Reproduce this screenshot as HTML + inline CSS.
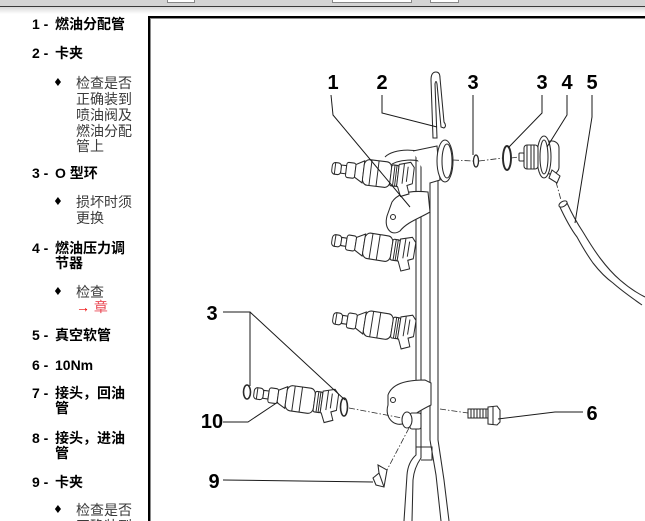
<!DOCTYPE html>
<html><head><meta charset="utf-8"><style>
html,body{margin:0;padding:0;width:645px;height:521px;overflow:hidden;background:#fff;position:relative;}
.t{position:absolute;font-family:"Liberation Sans","Noto Sans CJK SC",sans-serif;font-size:14px;line-height:16px;white-space:nowrap;}
.n{font-weight:bold;color:#000;}
.s{color:#3a3a3a;}
.d{position:absolute;font-family:"DejaVu Sans",sans-serif;font-size:11px;line-height:16px;color:#000;}
</style></head><body>
<div style="position:absolute;left:0;top:0;width:645px;height:6px;background:#d4d4d4"></div>
<div style="position:absolute;left:167px;top:0;width:26px;height:2px;background:#fff;border:1px solid #888;border-top:none"></div>
<div style="position:absolute;left:332px;top:0;width:78px;height:2px;background:#fff;border:1px solid #888;border-top:none"></div>
<div style="position:absolute;left:430px;top:0;width:27px;height:2px;background:#fff;border:1px solid #888;border-top:none"></div>
<div style="position:absolute;left:0;top:6px;width:645px;height:1px;background:#3a3a3a"></div>
<div style="position:absolute;left:0;top:7px;width:645px;height:7px;background:linear-gradient(#d8d8d8,#fff)"></div>
<div style="position:absolute;left:148px;top:16px;width:520px;height:520px;border-left:2px solid #000;border-top:2px solid #000;box-shadow:inset 1px 1px 0 #8a8a8a"></div>

<div class="t n" style="left:32px;top:16px">1 -</div><div class="t n" style="left:55px;top:16px">燃油分配管</div>
<div class="t n" style="left:32px;top:45px">2 -</div><div class="t n" style="left:55px;top:45px">卡夹</div>
<div class="d" style="left:53px;top:75px">♦</div>
<div class="t s" style="left:76px;top:75px">检查是否</div>
<div class="t s" style="left:76px;top:91px">正确装到</div>
<div class="t s" style="left:76px;top:107px">喷油阀及</div>
<div class="t s" style="left:76px;top:123px">燃油分配</div>
<div class="t s" style="left:76px;top:138px">管上</div>
<div class="t n" style="left:32px;top:165px">3 -</div><div class="t n" style="left:55px;top:165px">O 型环</div>
<div class="d" style="left:53px;top:194px">♦</div>
<div class="t s" style="left:76px;top:194px">损坏时须</div>
<div class="t s" style="left:76px;top:210px">更换</div>
<div class="t n" style="left:32px;top:240px">4 -</div><div class="t n" style="left:55px;top:240px">燃油压力调</div>
<div class="t n" style="left:55px;top:255px">节器</div>
<div class="d" style="left:53px;top:284px">♦</div>
<div class="t s" style="left:76px;top:284px">检查</div>
<div class="t" style="left:76px;top:299px;color:#e00">→ <span style="color:#ea4a55">章</span></div>
<div class="t n" style="left:32px;top:327px">5 -</div><div class="t n" style="left:55px;top:327px">真空软管</div>
<div class="t n" style="left:32px;top:357px">6 -</div><div class="t n" style="left:55px;top:357px">10Nm</div>
<div class="t n" style="left:32px;top:385px">7 -</div><div class="t n" style="left:55px;top:385px">接头，回油</div>
<div class="t n" style="left:55px;top:400px">管</div>
<div class="t n" style="left:32px;top:430px">8 -</div><div class="t n" style="left:55px;top:430px">接头，进油</div>
<div class="t n" style="left:55px;top:445px">管</div>
<div class="t n" style="left:32px;top:474px">9 -</div><div class="t n" style="left:55px;top:474px">卡夹</div>
<div class="d" style="left:53px;top:502px">♦</div>
<div class="t s" style="left:76px;top:502px">检查是否</div>
<div class="t s" style="left:76px;top:518px">正确装到</div>

<svg width="645" height="521" viewBox="0 0 645 521" style="position:absolute;left:0;top:0" fill="none" stroke="#2a2a2a" stroke-width="1.05">
<defs>
<g id="inj" fill="#fff" stroke="#2a2a2a" stroke-width="0.95">
<rect x="0" y="-5" width="9" height="10" rx="3"/>
<line x1="3" y1="-5" x2="3" y2="5"/>
<rect x="9" y="-3.5" width="5" height="7"/>
<rect x="14" y="-6.5" width="9" height="13" rx="2"/>
<path d="M23,-5.5 L31,-9.5 L31,9.5 L23,5.5 Z"/>
<rect x="31" y="-11" width="27" height="22" rx="5"/>
<path d="M38,-11 V11 M45,-11 V11"/>
<rect x="58" y="-9" width="7" height="18" rx="1.5"/>
<path d="M61,-9 V9 M63,-9 V9"/>
<path d="M65,-10 L76,-13 L80,-9 L80,5 L75,7 L78,14 L70,17 L66,9 L65,9 Z"/>
<path d="M70,-11 V6 M74,-9 V4"/>
</g>
</defs>

<!-- rail -->
<path d="M416,150 L416,455 Q408,462 407,475 L404,521"/>
<path d="M421,165 L421,458 Q414,468 413,480 L412,521"/>
<path d="M430,172 L430,440 L436,475 L441,521"/>
<path d="M438,162 L438,440 L444,480 L449,521"/>
<path d="M416,447 L432,447 L432,460 L421,460"/>
<path d="M385,157 C394,148 420,148 430,156 C436,162 438,168 438,175"/>
<path d="M389,166 C398,159 418,158 425,164 C429,168 430,170 430,174"/>
<!-- fitting on rail -->
<path d="M413,151 L437,146 L440,180 L430,183" fill="#fff"/>
<ellipse cx="445" cy="161" rx="8" ry="21" fill="#fff"/>
<ellipse cx="447" cy="161" rx="5" ry="17"/>
<!-- upper bracket -->
<path d="M392,202 C398,193 410,190 428,192 L430,212 C420,218 407,222 400,231 C391,237 384,228 387,216 Z" fill="#fff"/>
<circle cx="393" cy="217" r="2.5"/>
<!-- lower bracket -->
<path d="M388,395 C392,384 405,380 425,380 L431,383 L431,405 C421,410 412,415 405,423 C395,428 384,418 388,405 Z" fill="#fff"/>
<circle cx="393" cy="400" r="2.5"/>
<rect x="410" y="413" width="11" height="16" rx="2" fill="#fff"/>
<ellipse cx="407" cy="420" rx="5" ry="8" fill="#fff"/>

<!-- injectors -->
<use href="#inj" transform="translate(332,168) rotate(7) scale(1.02,1.17)"/>
<use href="#inj" transform="translate(332,240) rotate(9) scale(1.04,1.17)"/>
<use href="#inj" transform="translate(333,318) rotate(9) scale(1.03,1.17)"/>
<use href="#inj" transform="translate(254,393) rotate(8) scale(1.05,1.15)"/>

<!-- clip 2 -->
<path d="M433,138 L431,80 Q431,72 436,72 Q440,72 440,78 L444,122 Q447,126 444,128 L441,127 L437,84 Q436,79 435,84 L437,138 Z" fill="#fff"/>

<!-- O-rings -->
<ellipse cx="476" cy="161" rx="2.5" ry="6" stroke-width="1.3"/>
<ellipse cx="507" cy="158" rx="4" ry="12" stroke-width="1.9"/>
<ellipse cx="247" cy="392" rx="3.5" ry="7" stroke-width="1.6"/>
<ellipse cx="344" cy="407" rx="3.5" ry="9" stroke-width="1.6"/>

<!-- regulator -->
<g fill="#fff">
<rect x="544" y="141" width="15" height="33" rx="7"/>
<ellipse cx="544" cy="157" rx="7" ry="21"/>
<ellipse cx="544" cy="157" rx="4" ry="17"/>
<rect x="524" y="145" width="14" height="24" rx="3"/>
<path d="M527,145 V169 M531,145 V169 M534,145 V169"/>
<rect x="519" y="153" width="5" height="8" rx="1"/>
<path d="M552,170 L560,176 L557,183 L549,178 Z"/>
</g>

<!-- hose 5 -->
<path d="M559,205 C565,218 570,228 577,237 C583,248 588,256 593,263 C600,272 606,278 613,283 C622,291 632,298 642,305"/>
<path d="M567,203 C572,214 577,223 583,232 C589,242 594,250 600,258 C606,266 613,274 620,280 C628,287 637,293 645,297"/>
<ellipse cx="563" cy="204" rx="4.5" ry="2.5" transform="rotate(-30 563 204)" fill="#fff"/>

<!-- bolt 6 -->
<rect x="468" y="409" width="20" height="9" fill="#fff"/>
<path d="M471,409 V418 M474,409 V418 M477,409 V418 M480,409 V418 M483,409 V418 M486,409 V418"/>
<path d="M488,407 L497,406 L500,410 L500,422 L497,425 L488,424 Z" fill="#fff"/>
<path d="M493,406.5 V424.5"/>

<!-- clip 9 -->
<path d="M378,465 L387,470 L384,487 L376,485 L373,478 L379,473 Z" fill="#fff"/>
<path d="M379,473 L384,487"/>

<!-- dash-dot lines -->
<g stroke-dasharray="6,2,1.5,2" stroke-width="0.8">
<path d="M453,160 L473,161"/>
<path d="M479,161 L503,158"/>
<path d="M511,158 L519,157"/>
<path d="M556,182 L561,200"/>
<path d="M349,408 L402,418"/>
<path d="M440,409 L468,413"/>
<path d="M409,428 L387,470"/>
</g>

<!-- leader lines -->
<g stroke="#1a1a1a" stroke-width="1">
<path d="M331,95 L333,115 L410,207"/>
<path d="M382,95 L382,113 L437,127"/>
<path d="M473,95 L473,155"/>
<path d="M542,95 L542,113 L508,148"/>
<path d="M567,95 L567,115 L547,147"/>
<path d="M592,95 L592,117 L575,223"/>
<path d="M223,312 L250,312 L250,386 M250,312 L345,400"/>
<path d="M223,422 L248,422 L278,402"/>
<path d="M223,480 L373,482"/>
<path d="M498,419 L555,412 L583,412"/>
</g>

<!-- labels -->
<g font-family="Liberation Sans, sans-serif" font-weight="bold" font-size="20" fill="#000" stroke="none" text-anchor="middle">
<text x="333" y="89">1</text>
<text x="382" y="89">2</text>
<text x="473" y="89">3</text>
<text x="542" y="89">3</text>
<text x="567" y="89">4</text>
<text x="592" y="89">5</text>
<text x="212" y="320">3</text>
<text x="212" y="428">10</text>
<text x="214" y="488">9</text>
<text x="592" y="420">6</text>
</g>
</svg>
</body></html>
